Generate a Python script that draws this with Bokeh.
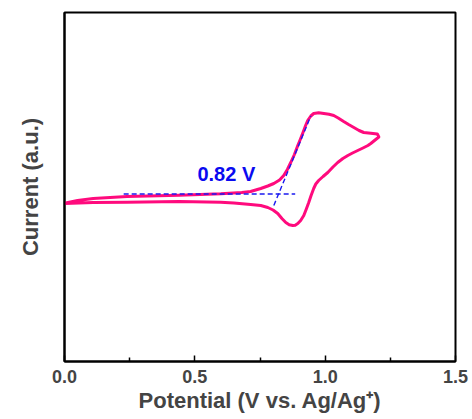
from bokeh.plotting import figure
from bokeh.models import Range1d, FixedTicker, NumeralTickFormatter
from bokeh.core.properties import value
from bokeh.embed import file_html
from bokeh.resources import INLINE

# Forward (anodic) scan
fwd_potential = [0.00, 0.05, 0.11, 0.24, 0.44, 0.60, 0.68, 0.714, 0.753, 0.78, 0.803,
                 0.825, 0.841, 0.855, 0.868, 0.882, 0.895, 0.906, 0.915, 0.925, 0.933,
                 0.945, 0.956, 0.975, 0.995, 1.015, 1.033, 1.05, 1.071, 1.09, 1.110,
                 1.13, 1.148, 1.175, 1.200, 1.206]
fwd_current = [0.03, 0.3, 0.5, 0.7, 0.83, 0.97, 1.1, 1.2, 1.5, 1.75, 2.0,
               2.35, 2.8, 3.4, 4.1, 4.9, 5.8, 6.5, 7.1, 7.8, 8.3,
               8.75, 9.0, 9.08, 9.0, 8.92, 8.8, 8.55, 8.2, 7.9, 7.6,
               7.3, 7.1, 7.02, 6.95, 6.65]
# Reverse (cathodic) scan
rev_potential = [1.206, 1.194, 1.175, 1.164, 1.145, 1.125, 1.105, 1.087, 1.068, 1.048,
                 1.03, 1.010, 0.992, 0.975, 0.964, 0.956, 0.946, 0.937, 0.927, 0.918,
                 0.906, 0.895, 0.885, 0.876, 0.862, 0.849, 0.834, 0.818, 0.80, 0.780,
                 0.753, 0.714, 0.65, 0.599, 0.44, 0.24, 0.11, 0.00]
rev_current = [6.65, 6.4, 6.0, 5.8, 5.55, 5.3, 5.05, 4.8, 4.5, 4.1,
               3.65, 3.1, 2.7, 2.3, 1.95, 1.5, 0.8, 0.1, -0.6, -1.2,
               -1.7, -2.0, -2.17, -2.2, -2.12, -1.9, -1.5, -1.0, -0.65, -0.4,
               -0.2, -0.1, 0.05, 0.13, 0.2, 0.13, 0.1, 0.0]

# Onset construction lines
baseline_x = [0.227, 0.885]
baseline_y = [0.95, 0.95]
tangent_x = [0.803, 0.945]
tangent_y = [-0.2, 8.75]
onset_label = "0.82 V"
onset_label_pos = (0.51, 3.0)

x_ticks = [0.0, 0.5, 1.0, 1.5]
x_minor = [0.25, 0.75, 1.25]

FONT = "Liberation Sans"

p = figure(width=472, height=419, output_backend="svg", toolbar_location=None,
           x_range=Range1d(0, 1.5), y_range=Range1d(-15.8, 19.1),
           min_border_left=64, min_border_right=17, min_border_top=12, min_border_bottom=58)
p.xgrid.visible = False
p.ygrid.visible = False
p.outline_line_color = "black"
p.outline_line_width = 2
p.background_fill_color = "white"
p.border_fill_color = "white"

potential = fwd_potential + rev_potential[1:]
current = fwd_current + rev_current[1:]
p.line(potential, current, line_color="#FF0A7D", line_width=3, line_join="round")

p.line(baseline_x, baseline_y, line_color="#1A1AF0", line_width=1.4, line_dash="5 3")
p.line(tangent_x, tangent_y, line_color="#1A1AF0", line_width=1.4, line_dash="5 3")
p.text(x=[onset_label_pos[0]], y=[onset_label_pos[1]], text=[onset_label],
       text_font=value(FONT), text_font_style="bold", text_font_size="20px",
       text_color="#0A0AF0", text_baseline="alphabetic", text_align="left")

xa = p.xaxis[0]
xa.ticker = FixedTicker(ticks=x_ticks, minor_ticks=x_minor)
xa.formatter = NumeralTickFormatter(format="0.0")
xa.axis_label = "Potential (V vs. Ag/Ag\u207a)"
xa.axis_label_text_font = FONT
xa.axis_label_text_font_style = "bold"
xa.axis_label_text_font_size = "22px"
xa.axis_label_standoff = 2
xa.major_label_text_font = FONT
xa.major_label_text_font_style = "bold"
xa.major_label_text_font_size = "18px"
xa.major_label_standoff = 8
xa.axis_line_width = 2
xa.major_tick_in = 6
xa.major_tick_out = 0
xa.minor_tick_in = 4
xa.minor_tick_out = 0
xa.major_tick_line_width = 1.5
xa.minor_tick_line_width = 1.5

ya = p.yaxis[0]
ya.ticker = FixedTicker(ticks=[])
ya.axis_label = "Current (a.u.)"
ya.axis_label_text_font = FONT
ya.axis_label_text_font_style = "bold"
ya.axis_label_text_font_size = "22px"
ya.axis_label_standoff = 22
ya.major_label_standoff = 0
ya.major_tick_in = 0
ya.major_tick_out = 0
ya.minor_tick_in = 0
ya.minor_tick_out = 0
ya.axis_line_width = 2

open("out.html", "w").write(file_html(p, INLINE))
